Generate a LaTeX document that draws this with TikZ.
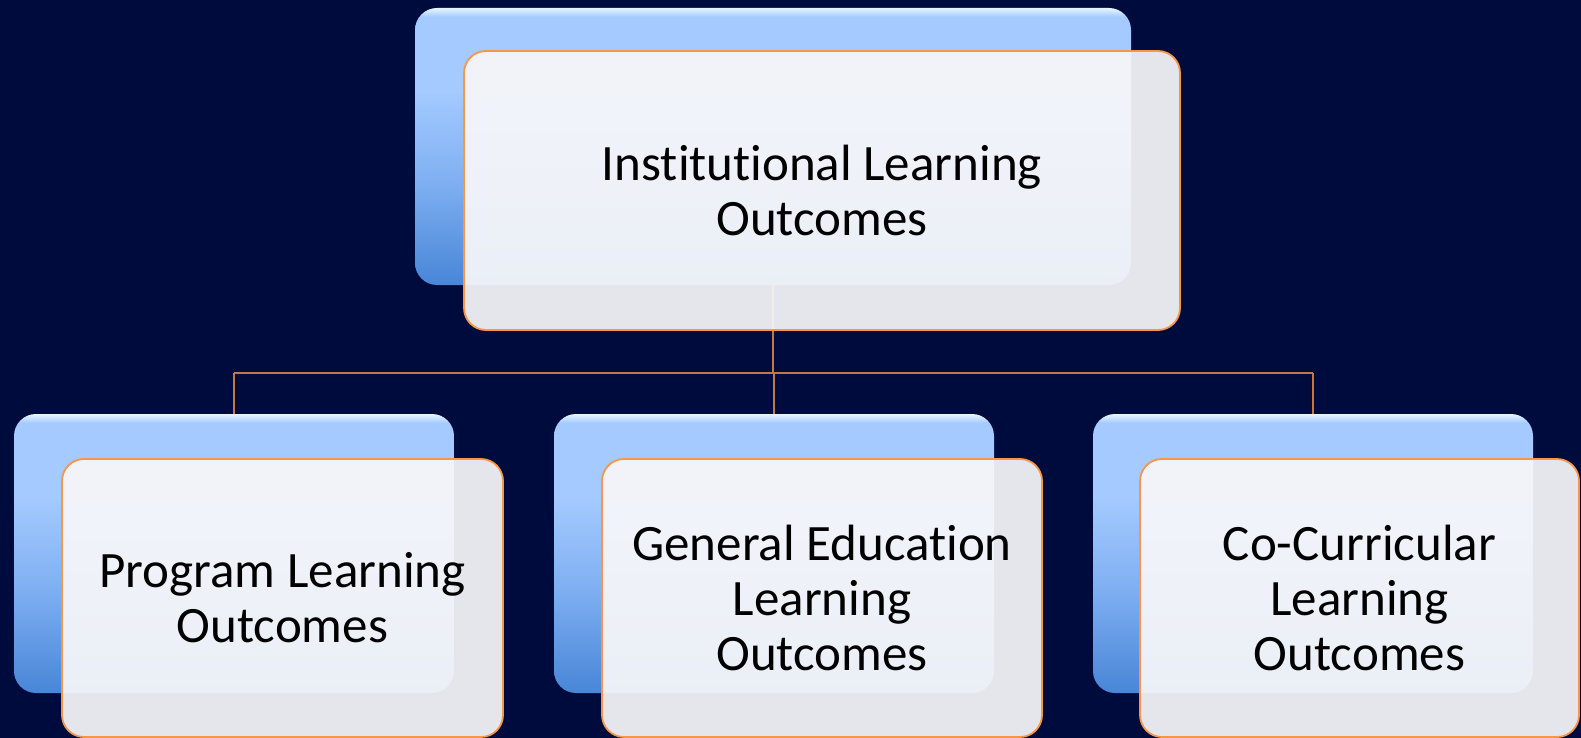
\documentclass[tikz,border=0pt]{standalone}
\usepackage{fontspec}
\setmainfont{Carlito}[Ligatures=NoCommon]
\usetikzlibrary{calc}

\definecolor{navy}{HTML}{000B3D}
\definecolor{blueTop}{HTML}{A4CAFF}
\definecolor{blueMid}{HTML}{80B0F2}
\definecolor{blueLow}{HTML}{4886D7}
\definecolor{gloss}{HTML}{E6F6FF}
\definecolor{cardFill}{HTML}{F7F7F9}
\definecolor{cardEdge}{HTML}{F79646}
\definecolor{linkCol}{HTML}{C4773F}

% glossy blue backing card: dark at the bottom, light at the top, bright rim
\pgfdeclareverticalshading{glossblue}{100bp}{%
  color(0bp)=(blueLow); color(25bp)=(blueLow); color(44bp)=(blueMid);
  color(60bp)=(blueTop); color(73.4bp)=(blueTop); color(75bp)=(gloss);
  color(100bp)=(gloss)}

\tikzset{
  backcard/.style={rectangle, rounded corners=22pt, inner sep=0pt, outer sep=0pt,
    anchor=north west, shading=glossblue, draw=none},
  frontcard/.style={rectangle, rounded corners=22pt, inner sep=0pt, outer sep=0pt,
    anchor=north west, fill=cardFill, fill opacity=0.93, text opacity=1,
    draw=cardEdge, line width=1.8pt, draw opacity=1, align=center,
    font=\fontsize{51}{55}\selectfont, text=black},
  link/.style={draw=linkCol, line width=1.6pt},
}

\begin{document}
\begin{tikzpicture}[x=1pt,y=-1pt]
  \fill[navy] (0,0) rectangle (1581,738);
  \useasboundingbox (0,0) rectangle (1581,738);

  % backing cards
  \node[backcard, minimum width=716pt, minimum height=277pt] (tb) at (415,8) {};
  \node[backcard, minimum width=440pt, minimum height=279pt] (b1) at (14,414) {};
  \node[backcard, minimum width=440pt, minimum height=279pt] (b2) at (554,414) {};
  \node[backcard, minimum width=440pt, minimum height=279pt] (b3) at (1093,414) {};

  % tree connectors
  \coordinate (bus) at (0,373);
  \draw[link] (tb.south) -- (tb.south |- bus);
  \draw[link] (b1.north |- bus) -- (b3.north |- bus);
  \draw[link] (b1.north |- bus) -- (b1.north);
  \draw[link] (b2.north |- bus) -- (b2.north);
  \draw[link] (b3.north |- bus) -- (b3.north);

  % front cards with labels
  \node[frontcard, minimum width=716pt, minimum height=279pt] (tf) at (464,51)
    {Institutional Learning\\Outcomes};
  \node[frontcard, minimum width=441pt, minimum height=278pt] (f1) at (62,459)
    {Program Learning\\Outcomes};
  \node[frontcard, minimum width=440pt, minimum height=278pt] (f2) at (602,459)
    {General Education\\Learning\\Outcomes};
  \node[frontcard, minimum width=439pt, minimum height=278pt] (f3) at (1140,459)
    {Co-Curricular\\Learning\\Outcomes};
\end{tikzpicture}
\end{document}
